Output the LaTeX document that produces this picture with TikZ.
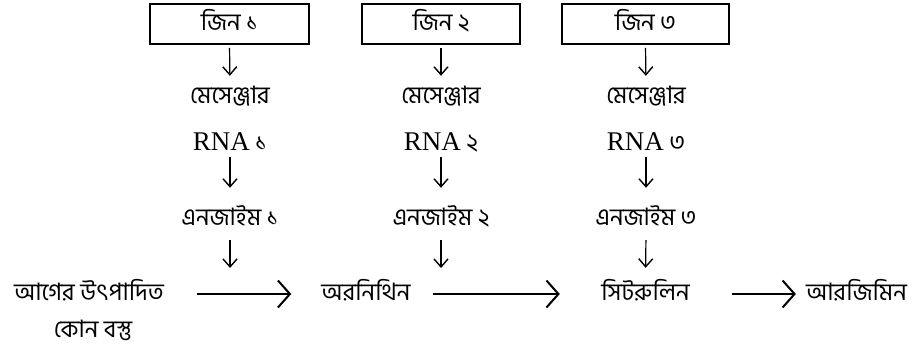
\documentclass[tikz,border=0pt]{standalone}
\usepackage{fontspec}
\setmainfont{Liberation Serif}
\newfontfamily\bn[Script=Bengali]{Hind Siliguri}
\newcommand{\rna}{{\fontsize{27}{30}\selectfont\rmfamily RNA}}
\usetikzlibrary{arrows.meta}
\begin{document}
\begin{tikzpicture}[x=1pt,y=-1pt,
  every node/.style={font=\fontsize{24}{28}\selectfont\bn},
  txt/.style={inner sep=0pt, text height=18pt, text depth=7pt, anchor=base},
  genebox/.style={draw, line width=1.6pt, inner sep=0pt, minimum height=40pt, text height=18pt, text depth=4pt},
  varr/.style={line width=1.2pt, -{Straight Barb[length=8pt,width=14pt,line width=1.4pt]}},
  harr/.style={line width=2pt, -{Straight Barb[length=12pt,width=27pt,line width=2pt]}}]
\useasboundingbox (0,0) rectangle (912,350);
% gene boxes
\node[genebox, minimum width=159pt] (g1) at (229.5,24) {জিন ১};
\node[genebox, minimum width=158pt] (g2) at (441,24) {জিন ২};
\node[genebox, minimum width=167pt] (g3) at (645.5,24) {জিন ৩};
% messenger
\node[txt] (m1) at (230,104) {মেসেঞ্জার};
\node[txt] (m2) at (441,104) {মেসেঞ্জার};
\node[txt] (m3) at (646,104) {মেসেঞ্জার};
\node[txt] (r1) at (230,150) {\rna{} ১};
\node[txt] (r2) at (441,150) {\rna{} ২};
\node[txt] (r3) at (646,150) {\rna{} ৩};
% enzymes
\node[txt] (e1) at (230,225) {এনজাইম ১};
\node[txt] (e2) at (441,225) {এনজাইম ২};
\node[txt] (e3) at (646,225) {এনজাইম ৩};
% bottom row
\node[txt, minimum width=158pt] (p0) at (89,300) {আগের উৎপাদিত};
\node[txt] (p0b) at (93,337) {কোন বস্তু};
\node[txt, minimum width=88pt] (p1) at (366,300) {অরনিথিন};
\node[txt, minimum width=95pt] (p2) at (645.5,300) {সিটরুলিন};
\node[txt, minimum width=97pt] (p3) at (856.5,300) {আরজিমিন};
% targets of enzyme arrows on the horizontal arrows
\coordinate (t1) at (230,268);
\coordinate (t2) at (441,268);
% vertical arrows
\foreach \i in {1,2,3}{
  \draw[varr, shorten <=3pt, shorten >=10pt] (g\i.south) -- (m\i.north);
  \draw[varr, shorten <=0pt, shorten >=19pt] (r\i.south) -- (e\i.north);
}
\draw[varr, shorten <=8pt] (e1.south) -- (t1);
\draw[varr, shorten <=8pt] (e2.south) -- (t2);
\draw[varr, shorten <=8pt, shorten >=14pt] (e3.south) -- (p2.north);
% horizontal arrows
\draw[harr, shorten <=29pt, shorten >=30pt] (p0.east |- 0,294) -- (p1.west |- 0,294);
\draw[harr, shorten <=22pt, shorten >=38pt] (p1.east |- 0,294) -- (p2.west |- 0,294);
\draw[harr, shorten <=39pt, shorten >=10pt] (p2.east |- 0,294) -- (p3.west |- 0,294);
\end{tikzpicture}
\end{document}
